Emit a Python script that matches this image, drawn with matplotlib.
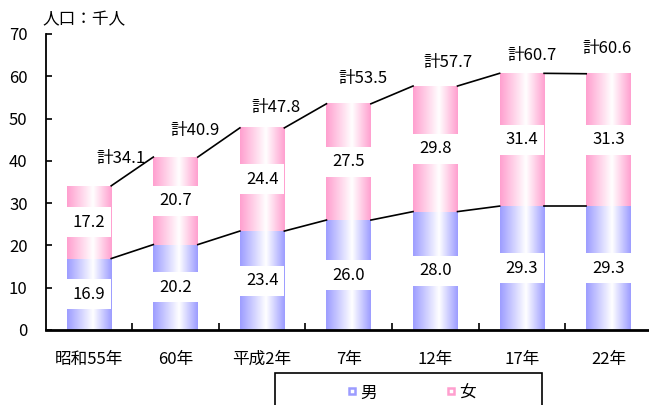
import matplotlib
matplotlib.use('Agg')
import matplotlib.pyplot as plt
import numpy as np
from matplotlib.colors import LinearSegmentedColormap
from matplotlib.patches import Rectangle
from matplotlib.lines import Line2D

plt.rcParams['font.family'] = ['Noto Sans CJK JP', 'DejaVu Sans']

# 人口の推移（千人）
nendo = ['昭和55年', '60年', '平成2年', '7年', '12年', '17年', '22年']
otoko = [16.9, 20.2, 23.4, 26.0, 28.0, 29.3, 29.3]
onna = [17.2, 20.7, 24.4, 27.5, 29.8, 31.4, 31.3]
goukei = [34.1, 40.9, 47.8, 53.5, 57.7, 60.7, 60.6]

# 計ラベルのずらし量（ポイント）
kei_dx = [23, 14, 10, 10, 9, 7, -1]
kei_dy = [20, 19, 15, 18, 17, 13, 18]

blue = '#9c9cff'
pink = '#ff9fcf'
cm_blue = LinearSegmentedColormap.from_list('b', [(0, blue), (0.58, 'white'), (1, blue)])
cm_pink = LinearSegmentedColormap.from_list('p', [(0, pink), (0.58, 'white'), (1, pink)])
grad = np.linspace(0, 1, 256).reshape(1, -1)

fig = plt.figure(figsize=(6.49, 4.05), dpi=100)
ax = fig.add_axes([45.7 / 649, 75 / 405, 606 / 649, 296 / 405])

x = np.arange(len(nendo))
w = 0.514
box_h = 7.1

for i in x:
    x0, x1 = i - w / 2, i + w / 2
    ax.imshow(grad, cmap=cm_blue, extent=[x0, x1, 0, otoko[i]], aspect='auto',
              interpolation='bicubic', zorder=2)
    ax.imshow(grad, cmap=cm_pink, extent=[x0, x1, otoko[i], goukei[i]], aspect='auto',
              interpolation='bicubic', zorder=2)
    # 値ラベル（白い枠）
    for mid, val in [(otoko[i] / 2, otoko[i]), (otoko[i] + onna[i] / 2, onna[i])]:
        ax.add_patch(Rectangle((x0, mid - box_h / 2), w, box_h, facecolor='white',
                               edgecolor='none', zorder=3))
        ax.text(i, mid, f'{val:.1f}', ha='center', va='center', fontsize=12, zorder=4)
    ax.annotate(f'計{goukei[i]:.1f}', (i, goukei[i]), xytext=(kei_dx[i], kei_dy[i]),
                textcoords='offset points', ha='center', va='center', fontsize=12, zorder=4)

# 区分線
for i in x[:-1]:
    ax.plot([i + w / 2, i + 1 - w / 2], [otoko[i], otoko[i + 1]], color='black', lw=1.2, zorder=3)
    ax.plot([i + w / 2, i + 1 - w / 2], [goukei[i], goukei[i + 1]], color='black', lw=1.2, zorder=3)

ax.set_xlim(-0.5, len(nendo) - 0.5)
ax.set_ylim(0, 70)
ax.set_yticks(range(0, 71, 10))
ax.tick_params(axis='y', direction='in', length=4, width=1.2, pad=13, labelsize=12)
ax.set_xticks(x[:-1] + 0.5)
ax.set_xticklabels([])
ax.set_xticks(x, minor=True)
ax.set_xticklabels(nendo, minor=True)
ax.tick_params(axis='x', which='major', direction='in', length=5, width=1.2)
ax.tick_params(axis='x', which='minor', length=0, pad=15, labelsize=12)
for s in ['top', 'right']:
    ax.spines[s].set_visible(False)
ax.spines['left'].set_linewidth(1.3)
ax.spines['bottom'].set_linewidth(2)

ax.text(-0.006, 1.02, '人口：千人', transform=ax.transAxes, ha='left', va='bottom', fontsize=12)

# 凡例
fig.add_artist(Rectangle((275 / 649, -0.1), 267 / 649, 0.1 + 32 / 405, transform=fig.transFigure,
                         fill=False, edgecolor='black', lw=1.2, clip_on=False))
for px, col, lab in [(352, blue, '男'), (451, pink, '女')]:
    fig.add_artist(Line2D([px / 649], [1 - 391 / 405], transform=fig.transFigure, marker='s',
                          markersize=5, markerfacecolor='white', markeredgecolor=col, mew=1.8))
    fig.text((px + 8) / 649, 1 - 393 / 405, lab, ha='left', va='center', fontsize=12)

fig.savefig('out.png', dpi=100)
